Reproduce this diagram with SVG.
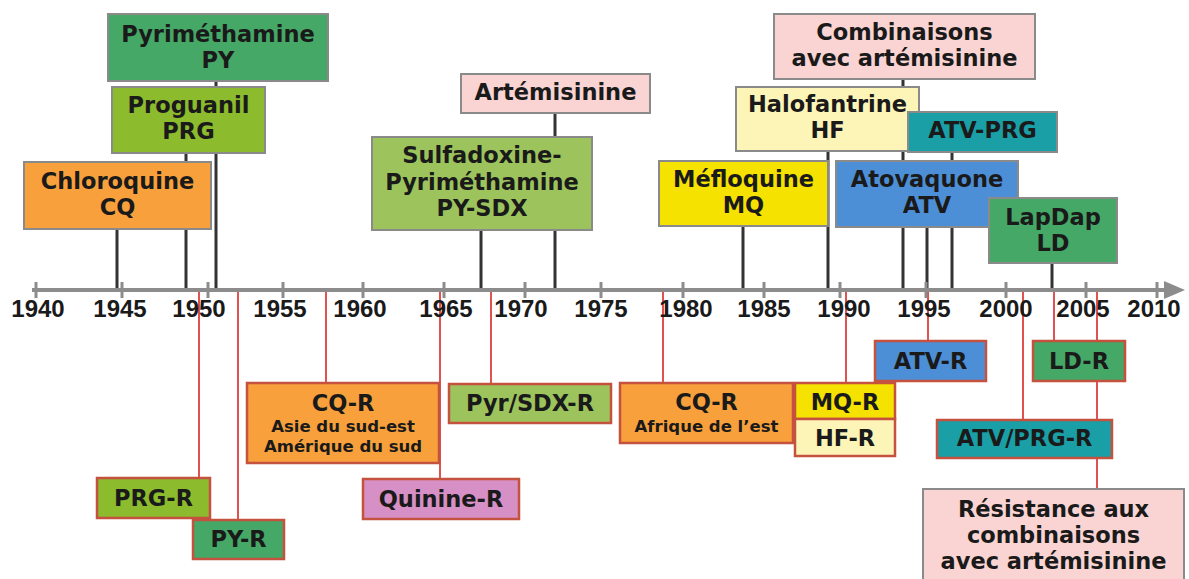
<svg xmlns="http://www.w3.org/2000/svg" width="1189" height="579" viewBox="0 0 1189 579">
<style>
.bg{fill:#ffffff}
.top{stroke:#8a8a8a;stroke-width:2}
.res{stroke:#c4523f;stroke-width:2.5}
.t{font-family:"DejaVu Sans",Verdana,sans-serif;font-weight:bold;font-size:22.5px;fill:#1a1a1a;text-anchor:middle}
.ts{font-family:"DejaVu Sans",Verdana,sans-serif;font-weight:bold;font-size:16.5px;fill:#1a1a1a;text-anchor:middle}
.yr{font-family:"Liberation Sans",Arial,sans-serif;font-weight:bold;font-size:24px;fill:#1a1a1a;text-anchor:middle}
.blk{stroke:#333333;stroke-width:3;fill:none}
.red{stroke:#e0524f;stroke-width:2;fill:none}
.axis{stroke:#8c8c8c;stroke-width:4;fill:none}
.tick{stroke:#8c8c8c;stroke-width:3}
.green{fill:#45a866}
.lime{fill:#8cbb2d}
.orange{fill:#f8a03c}
.pink{fill:#f9d4d2}
.olive{fill:#9dc45c}
.yellow{fill:#f6e200}
.cream{fill:#fdf5b8}
.blue{fill:#4d8fd6}
.teal{fill:#1a9fa6}
.mauve{fill:#d690c6}
</style>
<rect class="bg" x="0" y="0" width="1189" height="579"/>
<g id="connectors">
<line class="blk" x1="117" y1="229" x2="117" y2="290"/>
<line class="blk" x1="186" y1="153" x2="186" y2="290"/>
<line class="blk" x1="216" y1="81" x2="216" y2="290"/>
<line class="blk" x1="481" y1="230" x2="481" y2="290"/>
<line class="blk" x1="555" y1="113" x2="555" y2="290"/>
<line class="blk" x1="743" y1="226" x2="743" y2="290"/>
<line class="blk" x1="828" y1="151" x2="828" y2="290"/>
<line class="blk" x1="903" y1="79" x2="903" y2="290"/>
<line class="blk" x1="927" y1="227" x2="927" y2="290"/>
<line class="blk" x1="952" y1="152" x2="952" y2="290"/>
<line class="blk" x1="1052" y1="263" x2="1052" y2="290"/>
<line class="red" x1="199" y1="290" x2="199" y2="478"/>
<line class="red" x1="238" y1="290" x2="238" y2="520"/>
<line class="red" x1="326" y1="290" x2="326" y2="383"/>
<line class="red" x1="440" y1="290" x2="440" y2="479"/>
<line class="red" x1="491" y1="290" x2="491" y2="384"/>
<line class="red" x1="663" y1="290" x2="663" y2="383"/>
<line class="red" x1="846" y1="290" x2="846" y2="383"/>
<line class="red" x1="928" y1="290" x2="928" y2="341"/>
<line class="red" x1="1023" y1="290" x2="1023" y2="420"/>
<line class="red" x1="1054" y1="290" x2="1054" y2="341"/>
<line class="red" x1="1097" y1="290" x2="1097" y2="489"/>
</g>
<g id="axis">
<line class="axis" x1="32" y1="290" x2="1168" y2="290"/>
<polygon points="1164,281 1185,290 1164,299" fill="#8c8c8c"/>
<g class="tick">
<line x1="36" y1="282" x2="36" y2="298"/>
<line x1="122" y1="282" x2="122" y2="298"/>
<line x1="208" y1="282" x2="208" y2="298"/>
<line x1="283" y1="282" x2="283" y2="298"/>
<line x1="363" y1="282" x2="363" y2="298"/>
<line x1="444" y1="282" x2="444" y2="298"/>
<line x1="525" y1="282" x2="525" y2="298"/>
<line x1="601" y1="282" x2="601" y2="298"/>
<line x1="683" y1="282" x2="683" y2="298"/>
<line x1="764" y1="282" x2="764" y2="298"/>
<line x1="840" y1="282" x2="840" y2="298"/>
<line x1="926" y1="282" x2="926" y2="298"/>
<line x1="1006" y1="282" x2="1006" y2="298"/>
<line x1="1086" y1="282" x2="1086" y2="298"/>
<line x1="1157" y1="282" x2="1157" y2="298"/>
</g>
<text class="yr" x="38" y="317">1940</text>
<text class="yr" x="120" y="317">1945</text>
<text class="yr" x="199" y="317">1950</text>
<text class="yr" x="280" y="317">1955</text>
<text class="yr" x="360" y="317">1960</text>
<text class="yr" x="446" y="317">1965</text>
<text class="yr" x="521" y="317">1970</text>
<text class="yr" x="601" y="317">1975</text>
<text class="yr" x="686" y="317">1980</text>
<text class="yr" x="764" y="317">1985</text>
<text class="yr" x="844" y="317">1990</text>
<text class="yr" x="924" y="317">1995</text>
<text class="yr" x="1006" y="317">2000</text>
<text class="yr" x="1083" y="317">2005</text>
<text class="yr" x="1154" y="317">2010</text>
</g>
<g id="pyrimethamine"><rect class="green top" x="108" y="14" width="220" height="67"/><text class="t" x="218" y="42">Pyriméthamine</text><text class="t" x="218" y="68">PY</text></g>
<g id="proguanil"><rect class="lime top" x="112" y="87" width="153" height="66"/><text class="t" x="188.5" y="113">Proguanil</text><text class="t" x="188.5" y="139">PRG</text></g>
<g id="chloroquine"><rect class="orange top" x="24" y="162" width="187" height="67"/><text class="t" x="117.5" y="189">Chloroquine</text><text class="t" x="117.5" y="215">CQ</text></g>
<g id="artemisinine"><rect class="pink top" x="461" y="74" width="189" height="39"/><text class="t" x="555.5" y="100">Artémisinine</text></g>
<g id="sulfadoxine"><rect class="olive top" x="372" y="137" width="220" height="93"/><text class="t" x="482" y="163">Sulfadoxine-</text><text class="t" x="482" y="190">Pyriméthamine</text><text class="t" x="482" y="216">PY-SDX</text></g>
<g id="combinaisons"><rect class="pink top" x="774" y="14" width="261" height="65"/><text class="t" x="904.5" y="40">Combinaisons</text><text class="t" x="904.5" y="66">avec artémisinine</text></g>
<g id="halofantrine"><rect class="cream top" x="736" y="87" width="183" height="64"/><text class="t" x="827.5" y="112">Halofantrine</text><text class="t" x="827.5" y="138">HF</text></g>
<g id="atv-prg"><rect class="teal top" x="908" y="112" width="149" height="40"/><text class="t" x="982.5" y="138">ATV-PRG</text></g>
<g id="mefloquine"><rect class="yellow top" x="659" y="161" width="169" height="65"/><text class="t" x="743.5" y="187">Méfloquine</text><text class="t" x="743.5" y="213">MQ</text></g>
<g id="atovaquone"><rect class="blue top" x="836" y="161" width="182" height="66"/><text class="t" x="927" y="187">Atovaquone</text><text class="t" x="927" y="213">ATV</text></g>
<g id="lapdap"><rect class="green top" x="989" y="198" width="128" height="65"/><text class="t" x="1053" y="225">LapDap</text><text class="t" x="1053" y="251">LD</text></g>
<g id="cq-r-asie"><rect class="orange res" x="247" y="383" width="192" height="80"/><text class="t" x="343" y="411">CQ-R</text><text class="ts" x="343" y="432">Asie du sud-est</text><text class="ts" x="343" y="452">Amérique du sud</text></g>
<g id="pyr-sdx-r"><rect class="olive res" x="449" y="384" width="162" height="39"/><text class="t" x="530" y="411">Pyr/SDX-R</text></g>
<g id="prg-r"><rect class="lime res" x="97" y="478" width="113" height="40"/><text class="t" x="153.5" y="506">PRG-R</text></g>
<g id="py-r"><rect class="green res" x="193" y="520" width="91" height="39"/><text class="t" x="238.5" y="547">PY-R</text></g>
<g id="quinine-r"><rect class="mauve res" x="363" y="479" width="156" height="40"/><text class="t" x="441" y="507">Quinine-R</text></g>
<g id="cq-r-afrique"><rect class="orange res" x="620" y="383" width="173" height="60"/><text class="t" x="706.5" y="410">CQ-R</text><text class="ts" x="706.5" y="432">Afrique de l’est</text></g>
<g id="mq-r"><rect class="yellow res" x="795" y="383" width="100" height="36"/><text class="t" x="845" y="410">MQ-R</text></g>
<g id="hf-r"><rect class="cream res" x="795" y="419" width="100" height="37"/><text class="t" x="845" y="446">HF-R</text></g>
<g id="atv-r"><rect class="blue res" x="875" y="341" width="111" height="40"/><text class="t" x="930.5" y="369">ATV-R</text></g>
<g id="ld-r"><rect class="green res" x="1033" y="341" width="92" height="40"/><text class="t" x="1079" y="369">LD-R</text></g>
<g id="atv-prg-r"><rect class="teal res" x="937" y="420" width="175" height="38"/><text class="t" x="1024.5" y="446">ATV/PRG-R</text></g>
<g id="resistance"><rect class="pink top" x="923" y="489" width="261" height="100"/><text class="t" x="1053.5" y="517">Résistance aux</text><text class="t" x="1053.5" y="543">combinaisons</text><text class="t" x="1053.5" y="569">avec artémisinine</text></g>
</svg>
